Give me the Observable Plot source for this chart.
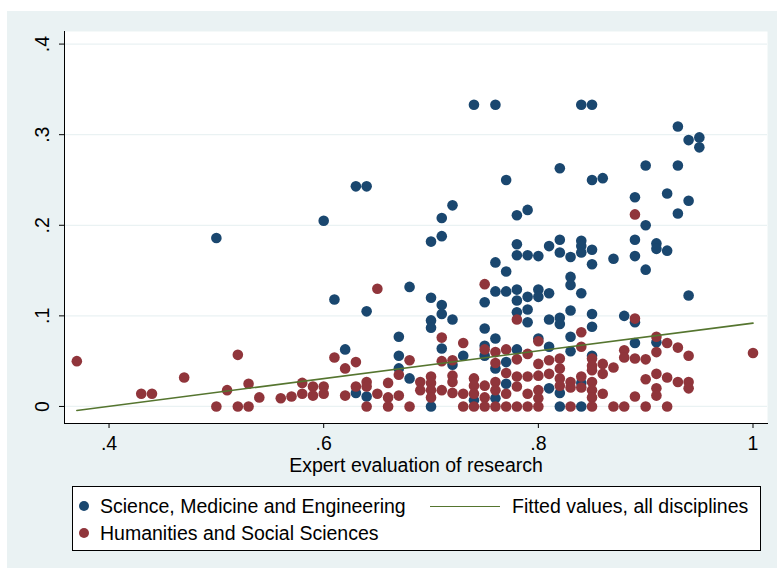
<!DOCTYPE html>
<html>
<head>
<meta charset="utf-8">
<script src="https://cdn.jsdelivr.net/npm/d3@7"></script>
<script src="https://cdn.jsdelivr.net/npm/@observablehq/plot@0.6"></script>
<style>
  html, body { margin: 0; padding: 0; background: #ffffff; }
  body { font-family: "Liberation Sans", Arial, Helvetica, sans-serif; width: 777px; height: 570px; position: relative; overflow: hidden; }
  #bg { position: absolute; left: 7px; top: 11px; width: 770px; height: 557px; background: #eaf2f3; }
  #chart { position: absolute; left: 0; top: 0; }
  #legend { position: absolute; left: 72px; top: 486px; width: 689px; height: 65px; box-sizing: border-box; border: 1px solid #000; background: #fff; }
  .lt { position: absolute; font-size: 19.5px; line-height: 20px; white-space: nowrap; color: #000; }
  .lm { position: absolute; width: 10px; height: 10px; border-radius: 50%; }
  .ll { position: absolute; height: 0; border-top: 1.6px solid #55752f; }
</style>
</head>
<body>
<div id="bg"></div>
<div id="chart"></div>
<div id="legend"></div>
<script>
// ---- Data ----
const seriesNames = ["Science, Medicine and Engineering", "Humanities and Social Sciences", "Fitted values, all disciplines"];
const seriesColors = ["#1a476f", "#90353b", "#55752f"];

// Science, Medicine and Engineering
const sciX = [0.50,0.60,0.61,0.62,0.63,0.64,0.63,0.64,0.64,0.67,0.67,0.67,0.68,0.68,
  0.70,0.70,0.70,0.70,0.70,0.71,0.71,0.71,0.71,0.71,0.72,0.72,0.72,0.73,0.74,0.74,
  0.75,0.75,0.75,0.75,0.76,0.76,0.76,0.76,0.76,0.76,0.77,0.77,0.77,0.77,0.77,
  0.78,0.78,0.78,0.78,0.78,0.78,0.78,0.79,0.79,0.79,0.79,0.79,
  0.80,0.80,0.80,0.80,0.81,0.81,0.81,0.81,0.81,
  0.82,0.82,0.82,0.82,0.82,0.82,0.82,0.83,0.83,0.83,0.83,0.83,0.83,
  0.84,0.84,0.84,0.84,0.84,0.84,0.84,0.85,0.85,0.85,0.85,0.85,0.85,0.85,
  0.86,0.87,0.88,0.89,0.89,0.89,0.89,0.89,0.90,0.90,0.90,0.91,0.91,0.91,
  0.92,0.92,0.93,0.93,0.93,0.94,0.94,0.94,0.95,0.95];
const sciY = [0.186,0.205,0.118,0.063,0.243,0.243,0.015,0.105,0.011,0.077,0.056,0.042,0.132,0.031,
  0.182,0.120,0.095,0.087,0.000,0.208,0.188,0.112,0.102,0.064,0.222,0.096,0.046,0.056,0.333,0.007,
  0.115,0.086,0.067,0.056,0.333,0.159,0.127,0.075,0.042,0.009,0.250,0.149,0.127,0.049,0.025,
  0.211,0.179,0.167,0.129,0.117,0.104,0.063,0.217,0.167,0.121,0.107,0.093,
  0.166,0.129,0.121,0.075,0.177,0.125,0.096,0.066,0.020,
  0.263,0.184,0.170,0.098,0.091,0.015,0.000,0.165,0.143,0.134,0.106,0.077,0.061,
  0.333,0.183,0.177,0.170,0.125,0.026,0.000,0.333,0.250,0.173,0.157,0.102,0.088,0.056,
  0.252,0.163,0.100,0.231,0.184,0.166,0.093,0.070,0.266,0.200,0.151,0.180,0.174,0.071,
  0.235,0.172,0.309,0.266,0.213,0.294,0.227,0.1225,0.297,0.286];

// Humanities and Social Sciences
const humX = [0.37,0.43,0.44,0.47,0.50,0.51,0.52,0.52,0.53,0.53,0.54,0.56,0.57,
  0.58,0.58,0.59,0.59,0.60,0.60,0.61,0.62,0.62,0.63,0.63,0.64,0.64,0.64,
  0.65,0.65,0.66,0.66,0.66,0.67,0.67,0.68,0.68,0.69,0.69,
  0.70,0.70,0.70,0.70,0.71,0.71,0.71,0.72,0.72,0.72,0.72,0.73,0.73,0.73,
  0.74,0.74,0.74,0.74,0.75,0.75,0.75,0.75,0.75,0.76,0.76,0.76,0.76,0.76,
  0.77,0.77,0.77,0.77,0.78,0.78,0.78,0.78,0.78,0.79,0.79,0.79,0.79,
  0.80,0.80,0.80,0.80,0.80,0.80,0.81,0.81,0.82,0.82,0.82,0.82,
  0.83,0.83,0.83,0.84,0.84,0.84,0.84,0.85,0.85,0.85,0.85,0.85,0.85,0.85,
  0.86,0.86,0.86,0.87,0.87,0.88,0.88,0.88,0.89,0.89,0.89,0.89,
  0.90,0.90,0.90,0.91,0.91,0.91,0.91,0.91,0.92,0.92,0.92,0.93,0.93,
  0.94,0.94,0.94,1.00];
const humY = [0.050,0.014,0.014,0.032,0.000,0.018,0.057,0.000,0.000,0.025,0.010,0.009,0.011,
  0.026,0.014,0.022,0.012,0.022,0.014,0.054,0.042,0.012,0.049,0.022,0.027,0.022,0.000,
  0.130,0.014,0.026,0.010,0.000,0.035,0.012,0.051,0.000,0.027,0.018,
  0.033,0.026,0.018,0.010,0.076,0.050,0.018,0.051,0.034,0.027,0.015,0.070,0.014,0.000,
  0.031,0.023,0.014,0.000,0.135,0.063,0.023,0.010,0.000,0.060,0.048,0.027,0.018,0.000,
  0.063,0.037,0.014,0.000,0.096,0.052,0.033,0.022,0.000,0.058,0.033,0.014,0.000,
  0.072,0.047,0.034,0.018,0.009,0.000,0.051,0.036,0.053,0.042,0.031,0.023,
  0.027,0.021,0.000,0.082,0.066,0.033,0.021,0.053,0.045,0.040,0.027,0.018,0.010,0.000,
  0.047,0.036,0.014,0.043,0.000,0.062,0.054,0.000,0.212,0.097,0.053,0.011,
  0.052,0.030,0.000,0.077,0.060,0.036,0.020,0.012,0.070,0.032,0.000,0.065,0.027,
  0.056,0.027,0.020,0.059];

// Fitted line (all disciplines), endpoints
const fitX = [0.37, 1.00];
const fitY = [-0.0044, 0.092];

// Axis ticks
const xTicks = [0.4, 0.6, 0.8, 1.0];
const xTickLabels = [".4", ".6", ".8", "1"];
const yTicks = [0, 0.1, 0.2, 0.3, 0.4];
const yTickLabels = ["0", ".1", ".2", ".3", ".4"];
const xTitle = "Expert evaluation of research";

// ---- Build tables ----
const sci = sciX.map((x, i) => ({x, y: sciY[i]}));
const hum = humX.map((x, i) => ({x, y: humY[i]}));
const fit = fitX.map((x, i) => ({x, y: fitY[i]}));
const yLab = yTicks.map((v, i) => ({v, t: yTickLabels[i]}));

const FONT = '"Liberation Sans", Arial, Helvetica, sans-serif';

const chart = Plot.plot({
  width: 777,
  height: 480,
  marginLeft: 64,
  marginRight: 10,
  marginTop: 31,
  marginBottom: 57,
  style: {background: "transparent", fontFamily: FONT, fontSize: "19.5px", color: "#000", overflow: "visible"},
  x: {domain: [0.3585, 1.0135], axis: null},
  y: {domain: [-0.0188, 0.4139], axis: null},
  marks: [
    Plot.frame({fill: "#ffffff", stroke: null}),
    Plot.gridY(yTicks, {stroke: "#eaf2f3", strokeOpacity: 1, strokeWidth: 1.2}),
    Plot.axisY({ticks: yTicks, tickSize: 5, tickFormat: () => "", label: null, stroke: "#000"}),
    Plot.text(yLab, {y: "v", text: "t", frameAnchor: "left", dx: -22, rotate: -90, textAnchor: "middle", lineAnchor: "middle", fontSize: 19.5, fill: "#000"}),
    Plot.axisX({ticks: xTicks, tickSize: 5, tickPadding: 8, tickFormat: (d) => xTickLabels[xTicks.indexOf(d)], label: null, fontSize: 19.5, stroke: "#000", fill: "#000"}),
    Plot.text([xTitle], {frameAnchor: "bottom", dy: 35, lineAnchor: "top", fontSize: 19.5, fill: "#000"}),
    Plot.dot(sci, {x: "x", y: "y", r: 5.3, fill: seriesColors[0], stroke: null}),
    Plot.dot(hum, {x: "x", y: "y", r: 5.3, fill: seriesColors[1], stroke: null}),
    Plot.line(fit, {x: "x", y: "y", stroke: seriesColors[2], strokeWidth: 1.6}),
    Plot.frame({anchor: "left", stroke: "#000", strokeWidth: 1}),
    Plot.frame({anchor: "bottom", stroke: "#000", strokeWidth: 1})
  ]
});
document.getElementById("chart").appendChild(chart);

// ---- Legend ----
const lg = document.getElementById("legend");
function add(cls, styles, text) {
  const el = document.createElement("div");
  el.className = cls;
  Object.assign(el.style, styles);
  if (text) el.textContent = text;
  lg.appendChild(el);
}
add("lm", {left: "6px", top: "14px", background: seriesColors[0]});
add("lt", {left: "27px", top: "9px"}, seriesNames[0]);
add("lm", {left: "6px", top: "41px", background: seriesColors[1]});
add("lt", {left: "27px", top: "36px"}, seriesNames[1]);
add("ll", {left: "357px", top: "18.5px", width: "70px"});
add("lt", {left: "439px", top: "9px"}, seriesNames[2]);
</script>
</body>
</html>
